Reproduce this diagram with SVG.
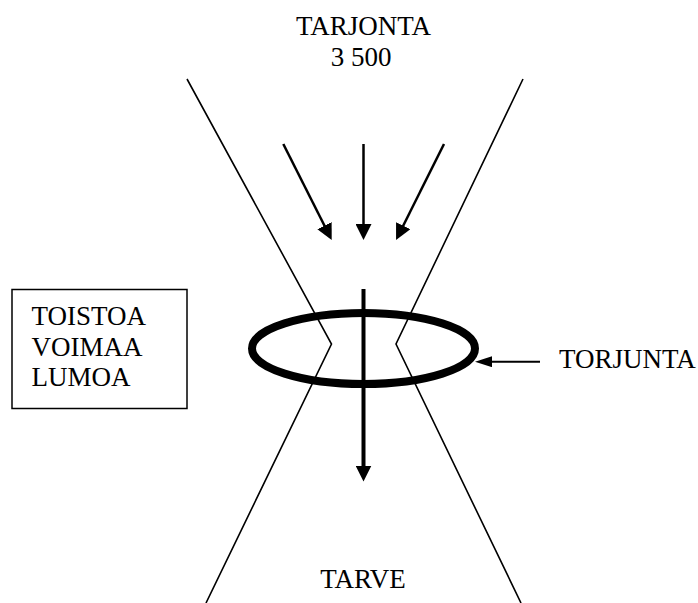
<svg xmlns="http://www.w3.org/2000/svg" width="698" height="603" viewBox="0 0 698 603">
  <style>
    .t { font-family: "Liberation Serif", "Times New Roman", serif; font-size: 27px; fill: #000; }
    .c { text-anchor: middle; }
    .funnel { fill: none; stroke: #000; stroke-width: 1.6; }
    .arr { stroke: #000; fill: none; }
  </style>
  <defs>
    <marker id="ah" viewBox="0 0 16 16" refX="2" refY="8" markerWidth="16" markerHeight="16" markerUnits="userSpaceOnUse" orient="auto">
      <path d="M0,0 L16,8 L0,16 z" fill="#000"/>
    </marker>
    <marker id="ah2" viewBox="0 0 17 11" refX="2" refY="5.5" markerWidth="17" markerHeight="11" markerUnits="userSpaceOnUse" orient="auto">
      <path d="M0,0 L17,5.5 L0,11 z" fill="#000"/>
    </marker>
  </defs>
  <rect width="698" height="603" fill="#fff"/>

  <g id="funnel">
    <polyline class="funnel" points="187,79 331.5,344 206,603"/>
    <polyline class="funnel" points="523,79 396,344 521,603"/>
  </g>

  <g id="tarjonta">
    <text class="t c" x="363.5" y="35">TARJONTA</text>
    <text class="t c" x="361" y="65.5">3 500</text>
  </g>

  <g id="ring">
    <ellipse cx="363.5" cy="348.5" rx="111.5" ry="35.5" fill="none" stroke="#000" stroke-width="8"/>
  </g>

  <g id="box">
    <rect x="12" y="289.5" width="175" height="119" fill="none" stroke="#000" stroke-width="1.5"/>
    <text class="t" x="31.5" y="325">TOISTOA</text>
    <text class="t" x="31.5" y="356">VOIMAA</text>
    <text class="t" x="31.5" y="386">LUMOA</text>
  </g>

  <g id="torjunta">
    <text class="t" x="559" y="367.5">TORJUNTA</text>
  </g>

  <g id="tarve">
    <text class="t c" x="363" y="588">TARVE</text>
  </g>

  <g id="connectors">
    <line class="arr" style="stroke-width:2.5" x1="283.3" y1="144" x2="325.4" y2="227.5" marker-end="url(#ah)"/>
    <line class="arr" style="stroke-width:2.5" x1="363.5" y1="144" x2="363.5" y2="226" marker-end="url(#ah)"/>
    <line class="arr" style="stroke-width:2.5" x1="444" y1="144" x2="402.3" y2="227.5" marker-end="url(#ah)"/>
    <line class="arr" style="stroke-width:4" x1="363.5" y1="289" x2="363.5" y2="467.5" marker-end="url(#ah)"/>
    <line class="arr" style="stroke-width:2" x1="540" y1="361.7" x2="490" y2="361.7" marker-end="url(#ah2)"/>
  </g>
</svg>
